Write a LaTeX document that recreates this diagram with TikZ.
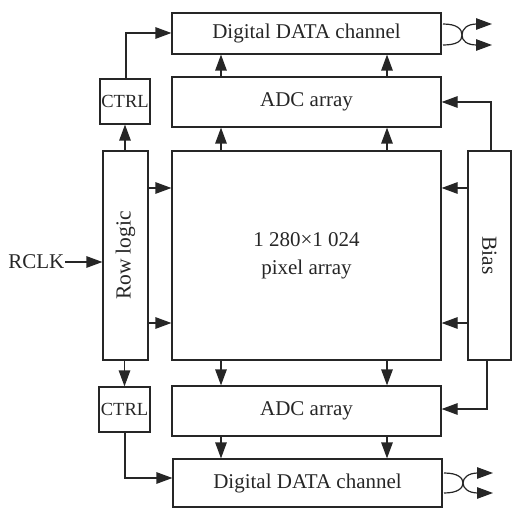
\documentclass[tikz,border=0pt]{standalone}
\usepackage{fontspec}
\setmainfont{Liberation Serif}
\usetikzlibrary{arrows.meta}
\definecolor{ink}{HTML}{262626}
\tikzset{
  box/.style={draw=ink, line width=1.2pt, inner sep=0pt, text=ink,
    font=\fontsize{21}{28}\selectfont},
  smallbox/.style={box, font=\fontsize{18.5}{22}\selectfont},
  arr/.style={draw=ink, line width=1.2pt,
    -{Triangle[length=16pt,width=11.5pt]}},
  cross/.style={draw=ink, line width=1.2pt},
}
\begin{document}
\begin{tikzpicture}[x=1pt,y=-1pt]
\useasboundingbox (0,0) rectangle (512,508);

% main blocks
\node[box, minimum width=269pt, minimum height=41pt] (topdig) at (306.5,33.5) {Digital DATA channel};
\node[box, minimum width=269pt, minimum height=50pt] (topadc) at (306.5,102) {ADC array};
\node[box, minimum width=269pt, minimum height=209pt, align=center] (pix) at (306.5,255.5) {1 280×1 024\\pixel array};
\node[box, minimum width=269pt, minimum height=50pt] (botadc) at (306.5,411) {ADC array};
\node[box, minimum width=269pt, minimum height=48pt] (botdig) at (307.5,483) {Digital DATA channel};

% side blocks
\node[smallbox, minimum width=50pt, minimum height=45pt] (ctrltop) at (125,101.5) {CTRL};
\node[smallbox, minimum width=51pt, minimum height=45pt] (ctrlbot) at (124.5,409.5) {CTRL};
\node[box, minimum width=45pt, minimum height=209pt] (row) at (125.5,255.5) {};
\node[box, draw=none, rotate=90, font=\fontsize{21.5}{26}\selectfont] (rowlabel) at (row.center) {Row logic};
\node[box, minimum width=43pt, minimum height=209pt] (bias) at (489.5,255.5) {};
\node[box, draw=none, rotate=-90, font=\fontsize{21.5}{26}\selectfont] (biaslabel) at (bias.center) {Bias};

% clock input
\node[box, draw=none, anchor=east] (rclk) at (65,262) {RCLK};
\draw[arr] (rclk.east) -- (row.west |- rclk.east);

% helper columns and rows
\coordinate (xa) at (221,0);
\coordinate (xb) at (387,0);
\coordinate (ya) at (0,188);
\coordinate (yb) at (0,323);

% vertical data flow
\draw[arr] (topadc.north -| xa) -- (topdig.south -| xa);
\draw[arr] (topadc.north -| xb) -- (topdig.south -| xb);
\draw[arr] (pix.north -| xa) -- (topadc.south -| xa);
\draw[arr] (pix.north -| xb) -- (topadc.south -| xb);
\draw[arr] (pix.south -| xa) -- (botadc.north -| xa);
\draw[arr] (pix.south -| xb) -- (botadc.north -| xb);
\draw[arr] (botadc.south -| xa) -- (botdig.north -| xa);
\draw[arr] (botadc.south -| xb) -- (botdig.north -| xb);

% row logic and bias into the pixel array
\draw[arr] (row.east |- ya) -- (pix.west |- ya);
\draw[arr] (row.east |- yb) -- (pix.west |- yb);
\draw[arr] (bias.west |- ya) -- (pix.east |- ya);
\draw[arr] (bias.west |- yb) -- (pix.east |- yb);

% control paths
\draw[arr] (row.north -| ctrltop.south) -- (ctrltop.south);
\draw[arr] (row.south -| ctrlbot.north) -- (ctrlbot.north);
\coordinate (c1) at (126,33);
\draw[arr] (ctrltop.north -| c1) -- (c1) -- (topdig.west |- c1);
\coordinate (c2) at (125,478);
\draw[arr] (ctrlbot.south -| c2) -- (c2) -- (botdig.west |- c2);

% bias to ADC arrays
\coordinate (b1) at (491,102);
\draw[arr] (bias.north -| b1) -- (b1) -- (topadc.east |- b1);
\coordinate (b2) at (487,409);
\draw[arr] (bias.south -| b2) -- (b2) -- (botadc.east |- b2);

% crossed outputs, top channel
\coordinate (t0) at (462,35);
\coordinate (tu) at (492,24);
\coordinate (tl) at (492,45);
\draw[cross] (443,24) .. controls (457,24) and (462,29) .. (t0);
\draw[cross] (443,45) .. controls (457,45) and (462,41) .. (t0);
\draw[arr] (t0) .. controls (462,29) and (467,24) .. (477,24) -- (tu);
\draw[arr] (t0) .. controls (462,41) and (467,45) .. (477,45) -- (tl);

% crossed outputs, bottom channel
\coordinate (u0) at (463,483);
\coordinate (uu) at (493,473);
\coordinate (ul) at (493,493);
\draw[cross] (444,473) .. controls (458,473) and (463,478) .. (u0);
\draw[cross] (444,493) .. controls (458,493) and (463,488) .. (u0);
\draw[arr] (u0) .. controls (463,478) and (468,473) .. (478,473) -- (uu);
\draw[arr] (u0) .. controls (463,488) and (468,493) .. (478,493) -- (ul);
\end{tikzpicture}
\end{document}
